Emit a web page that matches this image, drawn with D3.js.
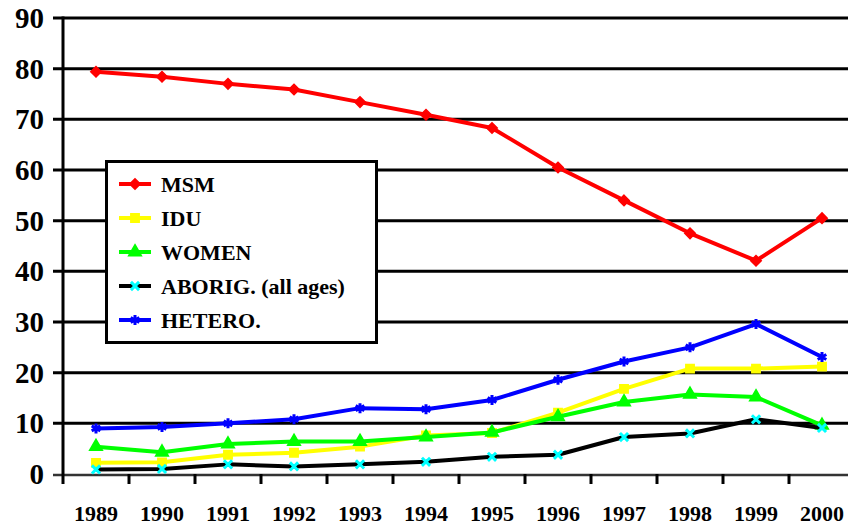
<!DOCTYPE html>
<html>
<head>
<meta charset="utf-8">
<script src="https://cdn.jsdelivr.net/npm/d3@7"></script>
<style>
  body { margin: 0; background: #fff; }
  svg { display: block; font-family: "Liberation Serif", "Times New Roman", serif; font-weight: bold; }
</style>
</head>
<body>
<svg width="848" height="525"></svg>
<script>

const years = ['1989', '1990', '1991', '1992', '1993', '1994', '1995', '1996', '1997', '1998', '1999', '2000'];
const yTicks = [0, 10, 20, 30, 40, 50, 60, 70, 80, 90];

const msm = [79.4, 78.4, 77.0, 75.9, 73.4, 70.9, 68.3, 60.5, 54.0, 47.5, 42.1, 50.5];
const idu = [2.2, 2.3, 3.8, 4.2, 5.4, 7.6, 8.1, 12.1, 16.8, 20.8, 20.8, 21.2];
const women = [5.4, 4.3, 5.9, 6.4, 6.4, 7.3, 8.2, 11.3, 14.2, 15.7, 15.2, 9.6];
const aborig = [0.9, 1.0, 1.9, 1.5, 1.9, 2.4, 3.4, 3.8, 7.3, 8.0, 10.8, 9.1];
const hetero = [9.0, 9.3, 10.0, 10.8, 13.0, 12.8, 14.6, 18.6, 22.2, 25.0, 29.6, 23.1];

const series = [
  { name: 'MSM', values: msm, line: '#ff0000', mark: '#ff0000', symbol: d3.symbolDiamond2, size: 70, stroke: false },
  { name: 'IDU', values: idu, line: '#ffff00', mark: '#ffff00', symbol: d3.symbolSquare, size: 70, stroke: false },
  { name: 'WOMEN', values: women, line: '#00ff00', mark: '#00ff00', symbol: d3.symbolTriangle, size: 70, stroke: false },
  { name: 'ABORIG. (all ages)', values: aborig, line: '#000000', mark: '#00ffff', symbol: d3.symbolX, size: 45, stroke: true },
  { name: 'HETERO.', values: hetero, line: '#0000ff', mark: '#0000ff', symbol: d3.symbolAsterisk, size: 70, stroke: true }
];

const svg = d3.select('svg');
const width = 848;

const x = d3.scaleBand()
  .domain(years)
  .range([63, 855]);

const y = d3.scaleLinear()
  .domain([0, 90])
  .range([474, 18]);

// gridlines with little left ticks
svg.append('g')
  .selectAll('line')
  .data(yTicks.filter(d => d > 0))
  .join('line')
    .attr('x1', 53)
    .attr('x2', width)
    .attr('y1', d => y(d))
    .attr('y2', d => y(d))
    .attr('stroke', '#000')
    .attr('stroke-width', 3);

// y labels
svg.append('g')
  .selectAll('text')
  .data(yTicks)
  .join('text')
    .attr('x', 44)
    .attr('y', d => y(d))
    .attr('dy', '0.35em')
    .attr('text-anchor', 'end')
    .attr('font-size', 29)
    .text(d => d);

// bottom axis
svg.append('line')
  .attr('x1', 53).attr('x2', width)
  .attr('y1', y(0) + 1).attr('y2', y(0) + 1)
  .attr('stroke', '#333')
  .attr('stroke-width', 2.5);

svg.append('g')
  .selectAll('line')
  .data(years.slice(1))
  .join('line')
    .attr('x1', d => x(d))
    .attr('x2', d => x(d))
    .attr('y1', y(0))
    .attr('y2', y(0) + 10)
    .attr('stroke', '#000')
    .attr('stroke-width', 3);

svg.append('g')
  .selectAll('text')
  .data(years)
  .join('text')
    .attr('x', d => x(d) + x.bandwidth() / 2)
    .attr('y', 521)
    .attr('text-anchor', 'middle')
    .attr('font-size', 22)
    .text(d => d);

// y axis line
svg.append('line')
  .attr('x1', 63).attr('x2', 63)
  .attr('y1', y(90) - 1.5).attr('y2', y(0) + 10)
  .attr('stroke', '#000')
  .attr('stroke-width', 3);

const cx = d => x(d) + x.bandwidth() / 2;

const line = d3.line()
  .x((d, i) => cx(years[i]))
  .y(d => y(d));

function drawMark(g, s) {
  const sym = d3.symbol().type(s.symbol).size(s.size);
  if (s.stroke) {
    g.attr('d', sym)
      .attr('fill', 'none')
      .attr('stroke', s.mark)
      .attr('stroke-width', 3);
  } else {
    g.attr('d', sym)
      .attr('fill', s.mark)
      .attr('stroke', s.mark)
      .attr('stroke-width', 1.5);
  }
}

series.forEach(s => {
  const g = svg.append('g');
  g.append('path')
    .datum(s.values)
    .attr('d', line)
    .attr('fill', 'none')
    .attr('stroke', s.line)
    .attr('stroke-width', 4)
    .attr('stroke-linejoin', 'round');
  g.selectAll('path.mark')
    .data(s.values)
    .join('path')
      .attr('class', 'mark')
      .attr('transform', (d, i) => `translate(${cx(years[i])},${y(d)})`)
      .call(drawMark, s);
});

// legend
const legend = svg.append('g');
legend.append('rect')
  .attr('x', 106.5).attr('y', 161.5)
  .attr('width', 270).attr('height', 181)
  .attr('fill', '#fff')
  .attr('stroke', '#000')
  .attr('stroke-width', 3);

const rows = legend.selectAll('g.row')
  .data(series)
  .join('g')
    .attr('class', 'row')
    .attr('transform', (d, i) => `translate(0,${184 + i * 34})`);

rows.append('line')
  .attr('x1', 119).attr('x2', 151)
  .attr('stroke', d => d.line)
  .attr('stroke-width', 4);

rows.append('path')
  .attr('transform', 'translate(135,0)')
  .each(function (d) { d3.select(this).call(drawMark, d); });

rows.append('text')
  .attr('x', 161)
  .attr('dy', '0.35em')
  .attr('font-size', 22)
  .text(d => d.name);

</script>
</body>
</html>
